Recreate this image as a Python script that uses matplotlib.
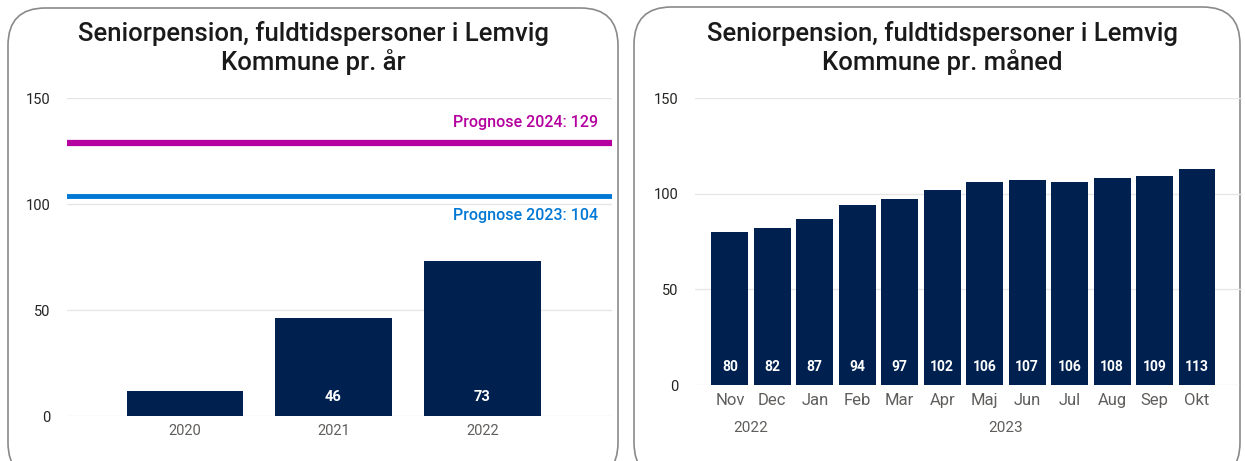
import matplotlib.pyplot as plt
from matplotlib.patches import FancyBboxPatch

# data
years = ['2020', '2021', '2022']
year_values = [12, 46, 73]
year_labels = ['', '46', '73']
prognose_2024 = 129
prognose_2023 = 104

months = ['Nov', 'Dec', 'Jan', 'Feb', 'Mar', 'Apr', 'Maj', 'Jun', 'Jul', 'Aug', 'Sep', 'Okt']
month_values = [80, 82, 87, 94, 97, 102, 106, 107, 106, 108, 109, 113]
month_years = ['2022', '2023']

title_left = 'Seniorpension, fuldtidspersoner i Lemvig\nKommune pr. år'
title_right = 'Seniorpension, fuldtidspersoner i Lemvig\nKommune pr. måned'

W, H = 1245, 461
bar_color = '#002050'
grid_color = '#E6E6E6'
tick_color = '#605E5C'
plt.rcParams['font.family'] = ['Roboto', 'DejaVu Sans']

fig = plt.figure(figsize=(W / 100, H / 100), dpi=100)


def px_axes(x0, y0, x1, y1):
    # pixel box (top-left origin) -> figure axes
    return fig.add_axes([x0 / W, 1 - y1 / H, (x1 - x0) / W, (y1 - y0) / H])


def panel(x0, y0, x1, y1):
    box = FancyBboxPatch((x0 / W, 1 - y1 / H), (x1 - x0) / W, (y1 - y0) / H,
                         boxstyle='round,pad=0,rounding_size=0.03',
                         transform=fig.transFigure, facecolor='white',
                         edgecolor='#8A8A8A', linewidth=1.2, mutation_aspect=W / H,
                         zorder=-10)
    fig.patches.append(box)


panel(8, 8, 618, 480)
panel(634, 7, 1240, 480)


def style(ax, xsize):
    for s in ax.spines.values():
        s.set_visible(False)
    ax.set_ylim(0, 150)
    ax.set_yticks([0, 50, 100, 150])
    ax.yaxis.grid(True, color=grid_color, linewidth=1)
    ax.set_axisbelow(True)
    ax.tick_params(axis='both', length=0)
    ax.tick_params(axis='y', labelsize=10.5, labelcolor='#252423', pad=12)
    ax.tick_params(axis='x', labelsize=xsize, labelcolor=tick_color, pad=6)
    ax.patch.set_alpha(0)


# left chart
ax1 = px_axes(67, 98, 612, 416)
style(ax1, 10.5)
x1 = range(len(years))
bars1 = ax1.bar(x1, year_values, width=0.78, color=bar_color)
ax1.set_xticks(list(x1))
ax1.set_xticklabels(years)
ax1.set_xlim(-0.79, 2.87)
for b, lab in zip(bars1, year_labels):
    ax1.annotate(lab, (b.get_x() + b.get_width() / 2, 0), xytext=(0, 14),
                 textcoords='offset points', ha='center', va='center',
                 color='white', fontsize=10.5, fontweight='bold')
ax1.axhline(prognose_2024, color='#B4009E', linewidth=4.5)
ax1.axhline(prognose_2023, color='#0078D4', linewidth=3.5)
ax1.text(0.975, prognose_2024 + 6, f'Prognose 2024: {prognose_2024}', transform=ax1.get_yaxis_transform(),
         ha='right', va='bottom', color='#B4009E', fontsize=11.5, fontweight='medium')
ax1.text(0.975, prognose_2023 - 6, f'Prognose 2023: {prognose_2023}', transform=ax1.get_yaxis_transform(),
         ha='right', va='top', color='#0078D4', fontsize=11.5, fontweight='medium')
fig.text(313 / W, 1 - 48 / H, title_left, ha='center', va='center', fontsize=18.5,
         fontweight='medium', color='#1A1A1A', linespacing=1.15)

# right chart
ax2 = px_axes(695, 98, 1242, 385)
style(ax2, 12)
x2 = list(range(len(months)))
bars2 = ax2.bar(x2, month_values, width=0.87, color=bar_color)
ax2.set_xticks(x2)
ax2.set_xticklabels(months)
ax2.set_xlim(-0.82, 12.06)
for b, v in zip(bars2, month_values):
    ax2.annotate(str(v), (b.get_x() + b.get_width() / 2, 0), xytext=(0, 13),
                 textcoords='offset points', ha='center', va='center',
                 color='white', fontsize=10, fontweight='bold')
ax2.text(0.5, -0.15, month_years[0], transform=ax2.get_xaxis_transform(),
         ha='center', va='center', color=tick_color, fontsize=11)
ax2.text(6.5, -0.15, month_years[1], transform=ax2.get_xaxis_transform(),
         ha='center', va='center', color=tick_color, fontsize=11)
fig.text(942 / W, 1 - 48 / H, title_right, ha='center', va='center', fontsize=18.5,
         fontweight='medium', color='#1A1A1A', linespacing=1.15)

fig.savefig('out.png', dpi=100)
